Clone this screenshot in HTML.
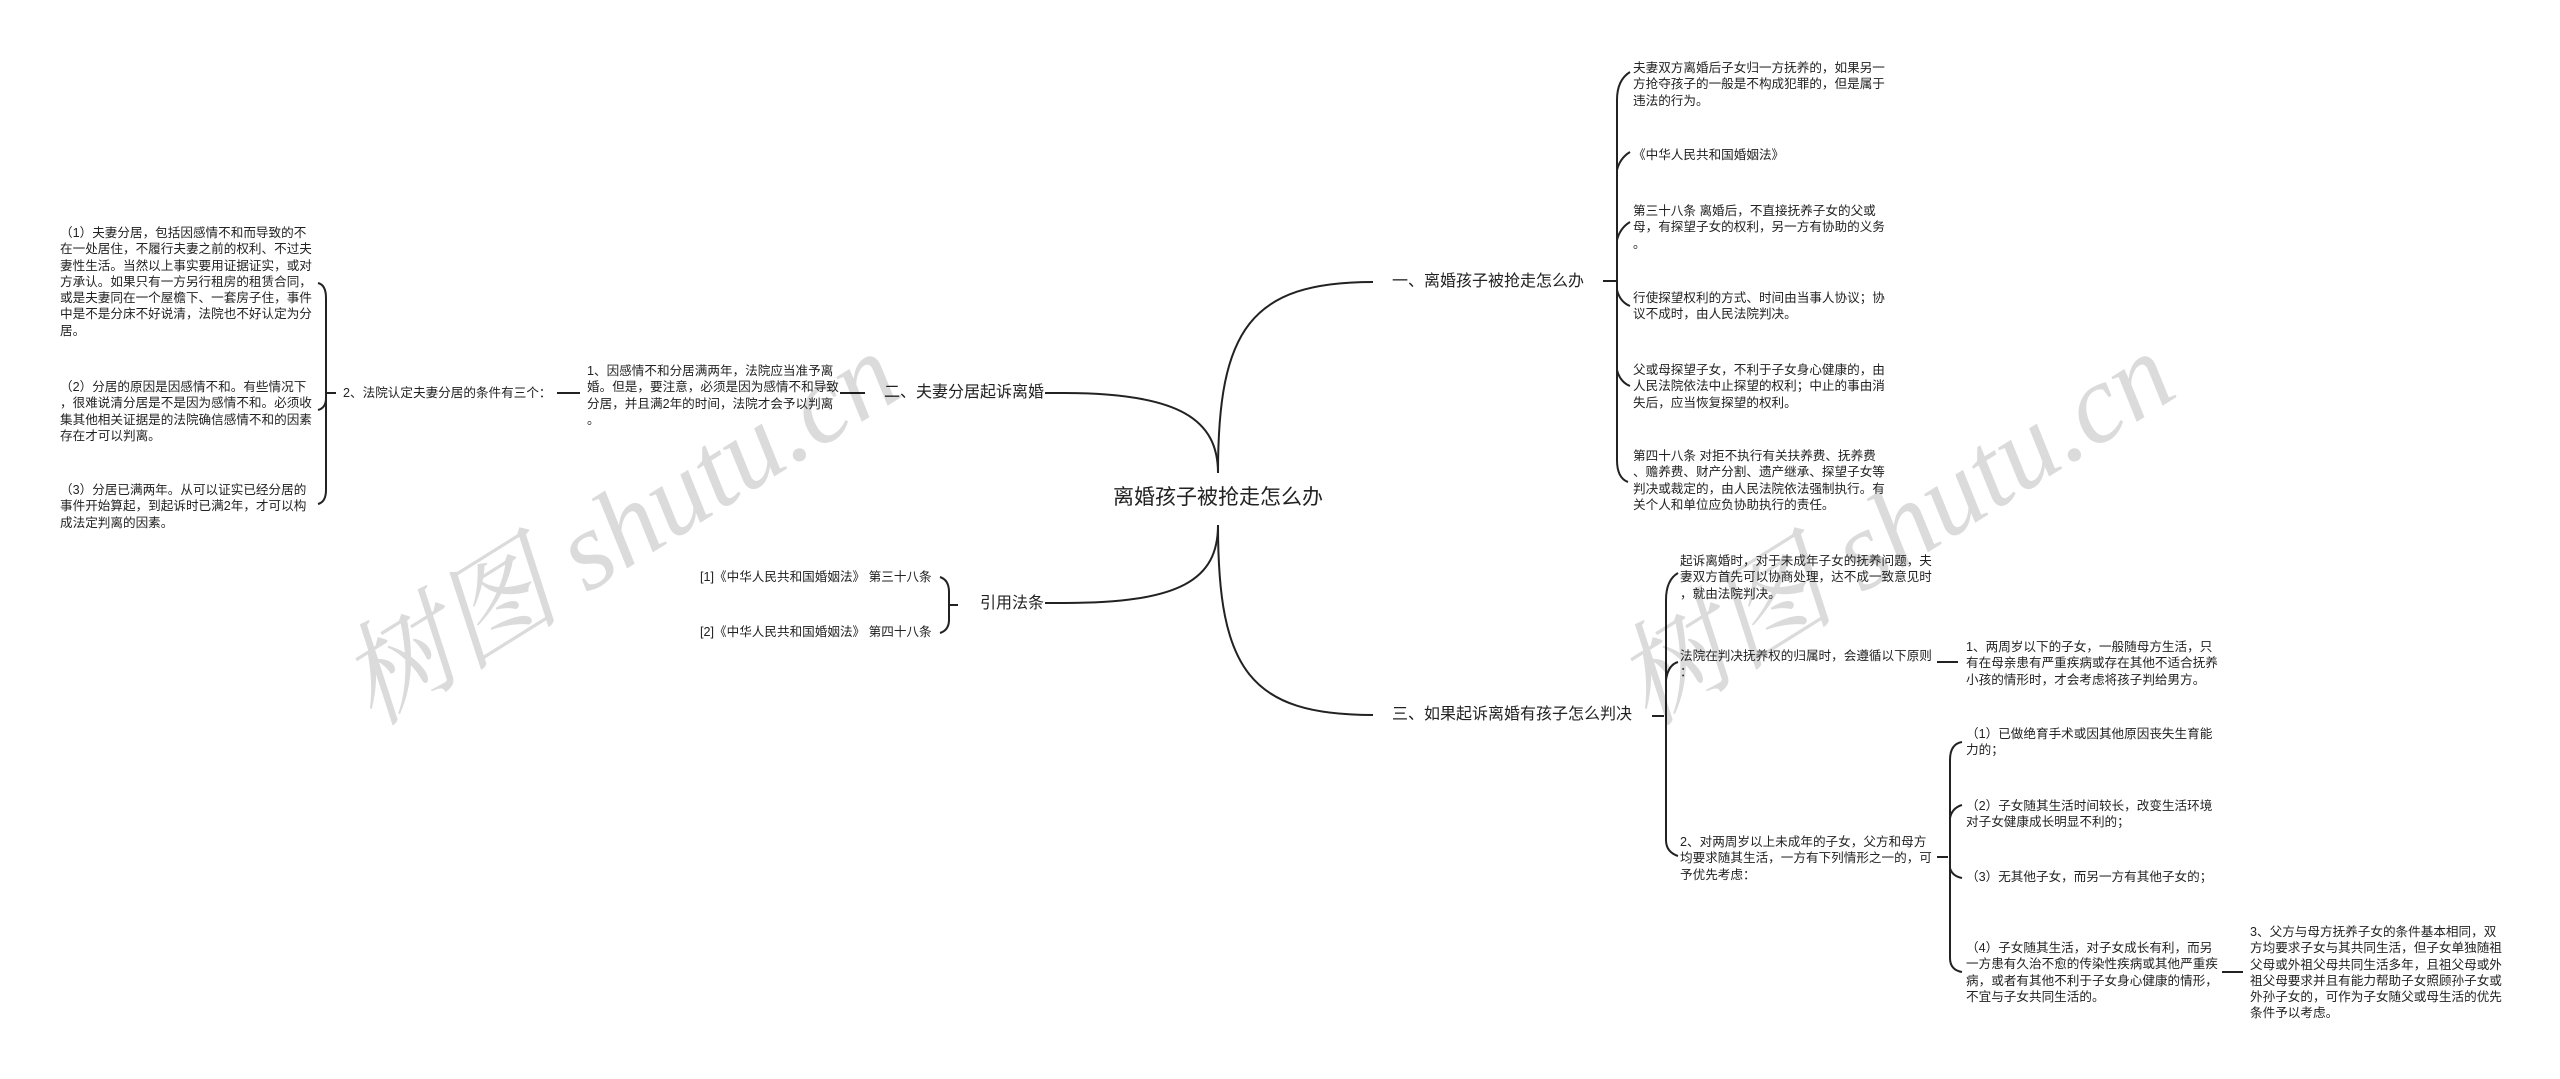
<!DOCTYPE html>
<html><head><meta charset="utf-8">
<style>
html,body{margin:0;padding:0;background:#fff;}
body{width:2560px;height:1079px;position:relative;overflow:hidden;font-family:"Liberation Sans","Noto Sans CJK SC",sans-serif;color:#222;}
.t{position:absolute;font-size:12.6px;line-height:16.3px;white-space:nowrap;}
.n{position:absolute;font-size:16px;line-height:20px;white-space:nowrap;}
.wm{position:absolute;font-family:"Liberation Serif","Noto Serif CJK SC",serif;font-size:112px;color:rgba(0,0,0,0.14);white-space:nowrap;transform-origin:center center;font-style:italic;}
svg{position:absolute;left:0;top:0;}
</style></head><body>
<svg width="2560" height="1079" fill="none" stroke="#222" stroke-width="2">
<!-- center curves -->
<path d="M1218,473 C1218,330 1250,282 1373,282"/>
<path d="M1218,525 C1218,670 1250,715 1373,715"/>
<path d="M1218,473 C1218,420 1180,393 1064,393"/>
<path d="M1218,525 C1218,580 1180,603 1064,603"/>
<!-- 一 connector and bracket -->
<path d="M1603,281 L1616,281"/>
<path d="M1630,72 Q1617,80 1617,100 L1617,460 Q1617,478 1628,482"/>
<path d="M1617,170 Q1620,158 1630,152"/>
<path d="M1617,240 Q1620,228 1630,222"/>
<path d="M1617,290 Q1620,302 1630,306"/>
<path d="M1617,370 Q1620,382 1630,386"/>
<!-- 三 connector and bracket -->
<path d="M1652,716 L1664,716"/>
<path d="M1678,573 Q1666,580 1666,600 L1666,840 Q1666,852 1678,856"/>
<path d="M1666,680 Q1668,665 1678,662"/>
<path d="M1937,662 L1958,662"/>
<path d="M1937,857 L1948,857"/>
<path d="M1962,742 Q1950,744 1950,760 L1950,958 Q1950,970 1962,972"/>
<path d="M1950,818 Q1952,808 1962,805"/>
<path d="M1950,868 Q1952,876 1962,878"/>
<path d="M2222,972 L2243,972"/>
<!-- left side -->
<path d="M1045,393 L1064,393"/>
<path d="M840,393 L865,393"/>
<path d="M557,393 L580,393"/>
<path d="M318,283 Q326,285 326,298 L326,490 Q326,502 318,504"/>
<path d="M326,398 Q326,408 318,410"/>
<path d="M326,393 L336,393"/>
<path d="M1045,603 L1064,603"/>
<path d="M949,605 L958,605"/>
<path d="M940,577 Q949,580 949,592 L949,620 Q949,630 940,633"/>
</svg>

<div class="wm" style="left:300px;top:440px;transform:rotate(-32deg);">树图 shutu.cn</div>
<div class="wm" style="left:1575px;top:440px;transform:rotate(-32deg);">树图 shutu.cn</div>

<div class="t" style="left:1113px;top:484px;font-size:21px;line-height:28px;">离婚孩子被抢走怎么办</div>

<div class="n" style="left:1392px;top:272px;">一、离婚孩子被抢走怎么办</div>
<div class="n" style="left:1392px;top:705px;">三、如果起诉离婚有孩子怎么判决</div>
<div class="n" style="left:884px;top:383px;">二、夫妻分居起诉离婚</div>
<div class="n" style="left:980px;top:594px;">引用法条</div>

<!-- right top leaves -->
<div class="t" style="left:1633px;top:60px;">夫妻双方离婚后子女归一方抚养的，如果另一<br>方抢夺孩子的一般是不构成犯罪的，但是属于<br>违法的行为。</div>
<div class="t" style="left:1633px;top:147px;">《中华人民共和国婚姻法》</div>
<div class="t" style="left:1633px;top:203px;">第三十八条 离婚后，不直接抚养子女的父或<br>母，有探望子女的权利，另一方有协助的义务<br>。</div>
<div class="t" style="left:1633px;top:290px;">行使探望权利的方式、时间由当事人协议；协<br>议不成时，由人民法院判决。</div>
<div class="t" style="left:1633px;top:362px;">父或母探望子女，不利于子女身心健康的，由<br>人民法院依法中止探望的权利；中止的事由消<br>失后，应当恢复探望的权利。</div>
<div class="t" style="left:1633px;top:448px;">第四十八条 对拒不执行有关扶养费、抚养费<br>、赡养费、财产分割、遗产继承、探望子女等<br>判决或裁定的，由人民法院依法强制执行。有<br>关个人和单位应负协助执行的责任。</div>

<!-- 三 leaves -->
<div class="t" style="left:1680px;top:553px;">起诉离婚时，对于未成年子女的抚养问题，夫<br>妻双方首先可以协商处理，达不成一致意见时<br>，就由法院判决。</div>
<div class="t" style="left:1680px;top:648px;">法院在判决抚养权的归属时，会遵循以下原则<br>：</div>
<div class="t" style="left:1966px;top:639px;">1、两周岁以下的子女，一般随母方生活，只<br>有在母亲患有严重疾病或存在其他不适合抚养<br>小孩的情形时，才会考虑将孩子判给男方。</div>
<div class="t" style="left:1680px;top:834px;">2、对两周岁以上未成年的子女，父方和母方<br>均要求随其生活，一方有下列情形之一的，可<br>予优先考虑：</div>
<div class="t" style="left:1966px;top:726px;">（1）已做绝育手术或因其他原因丧失生育能<br>力的；</div>
<div class="t" style="left:1966px;top:798px;">（2）子女随其生活时间较长，改变生活环境<br>对子女健康成长明显不利的；</div>
<div class="t" style="left:1966px;top:869px;">（3）无其他子女，而另一方有其他子女的；</div>
<div class="t" style="left:1966px;top:940px;">（4）子女随其生活，对子女成长有利，而另<br>一方患有久治不愈的传染性疾病或其他严重疾<br>病，或者有其他不利于子女身心健康的情形，<br>不宜与子女共同生活的。</div>
<div class="t" style="left:2250px;top:924px;">3、父方与母方抚养子女的条件基本相同，双<br>方均要求子女与其共同生活，但子女单独随祖<br>父母或外祖父母共同生活多年，且祖父母或外<br>祖父母要求并且有能力帮助子女照顾孙子女或<br>外孙子女的，可作为子女随父或母生活的优先<br>条件予以考虑。</div>

<!-- left leaves -->
<div class="t" style="left:587px;top:363px;">1、因感情不和分居满两年，法院应当准予离<br>婚。但是，要注意，必须是因为感情不和导致<br>分居，并且满2年的时间，法院才会予以判离<br>。</div>
<div class="t" style="left:343px;top:385px;">2、法院认定夫妻分居的条件有三个：</div>
<div class="t" style="left:60px;top:225px;">（1）夫妻分居，包括因感情不和而导致的不<br>在一处居住，不履行夫妻之前的权利、不过夫<br>妻性生活。当然以上事实要用证据证实，或对<br>方承认。如果只有一方另行租房的租赁合同，<br>或是夫妻同在一个屋檐下、一套房子住，事件<br>中是不是分床不好说清，法院也不好认定为分<br>居。</div>
<div class="t" style="left:60px;top:379px;">（2）分居的原因是因感情不和。有些情况下<br>，很难说清分居是不是因为感情不和。必须收<br>集其他相关证据是的法院确信感情不和的因素<br>存在才可以判离。</div>
<div class="t" style="left:60px;top:482px;">（3）分居已满两年。从可以证实已经分居的<br>事件开始算起，到起诉时已满2年，才可以构<br>成法定判离的因素。</div>

<div class="t" style="left:700px;top:569px;">[1]《中华人民共和国婚姻法》 第三十八条</div>
<div class="t" style="left:700px;top:624px;">[2]《中华人民共和国婚姻法》 第四十八条</div>
</body></html>
